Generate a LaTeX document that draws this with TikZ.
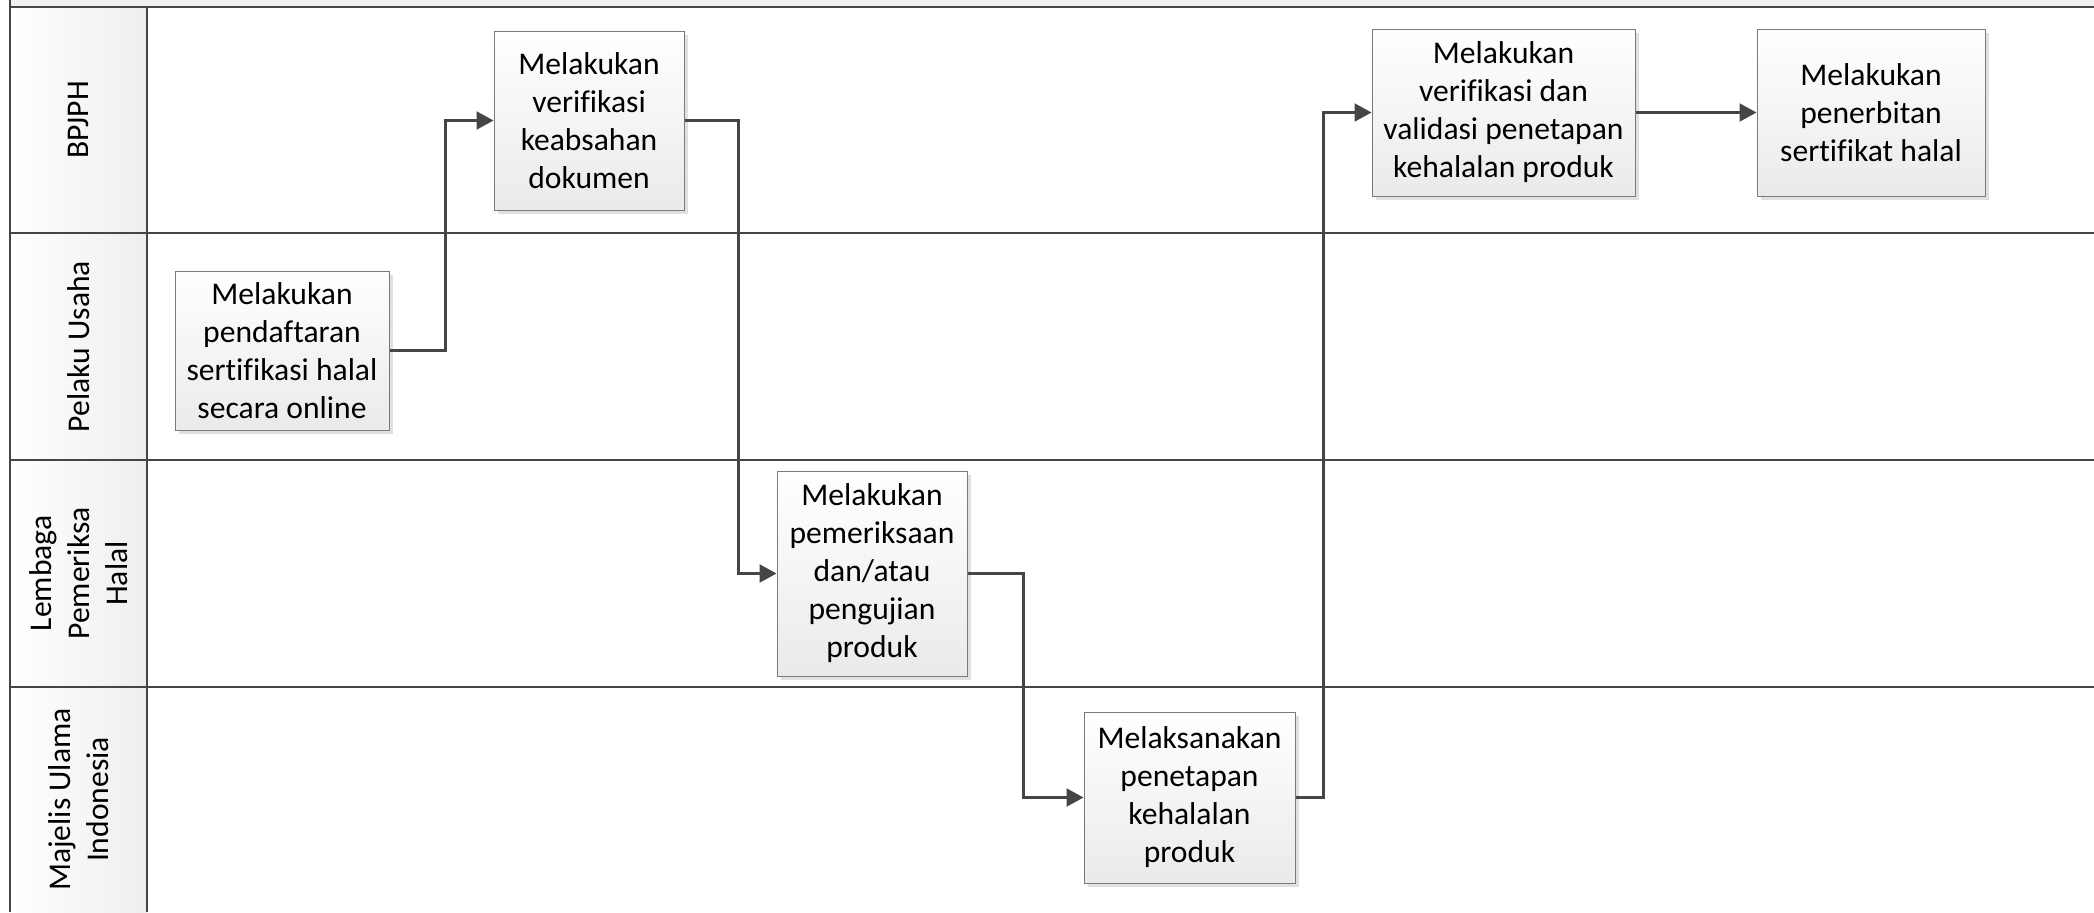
\documentclass[tikz,border=0pt]{standalone}
\usepackage{fontspec}
\setmainfont{Carlito}[Ligatures=NoCommon]
\usetikzlibrary{arrows.meta,shadows}
\definecolor{linec}{HTML}{454545}
\definecolor{boxborder}{HTML}{7A7A7A}
\definecolor{boxbot}{HTML}{EAEAEA}
\definecolor{hdrr}{HTML}{EEEEEE}
\definecolor{topstrip}{HTML}{F0F0F0}
\tikzset{
  proc/.style={draw=boxborder, line width=0.5pt, top color=white, bottom color=boxbot,
    align=center, font=\fontsize{15.8}{19}\selectfont, inner sep=0pt,
    drop shadow={shadow xshift=2pt, shadow yshift=-2pt, fill=black, opacity=0.12}},
  laneline/.style={draw=linec, line width=1pt},
  flow/.style={draw=linec, line width=1.1pt, -{Triangle[length=8.5pt,width=9pt]}},
  lanelabel/.style={rotate=90, align=center, font=\fontsize{15.8}{19}\selectfont}
}
\begin{document}
\begin{tikzpicture}[x=0.5pt,y=-0.5pt]
\useasboundingbox (0,0) rectangle (2094,912);
% top strip
\fill[topstrip] (10,0) rectangle (2094,7);
% header column shading
\shade[left color=white, right color=hdrr] (10,7) rectangle (147,912);
% lane lines
\draw[laneline] (10,7) -- (2094,7);
\draw[laneline] (10,233) -- (2094,233);
\draw[laneline] (10,460) -- (2094,460);
\draw[laneline] (10,687) -- (2094,687);
\draw[laneline] (10,0) -- (10,912);
\draw[laneline] (147,7) -- (147,912);
% lane labels
\node[lanelabel] (l1) at (78.5,120) {BPJPH};
\node[lanelabel] (l2) at (78.5,346.5) {Pelaku Usaha};
\node[lanelabel] (l3) at (78.5,573.5) {Lembaga\\Pemeriksa\\Halal};
\node[lanelabel] (l4) at (78.5,799.5) {Majelis Ulama\\Indonesia};
% process boxes
\node[proc, minimum width=107pt, minimum height=79.5pt] (b1) at (282,350.5)
  {Melakukan\\pendaftaran\\sertifikasi halal\\secara online};
\node[proc, minimum width=95pt, minimum height=89.5pt] (b2) at (589,120.5)
  {Melakukan\\verifikasi\\keabsahan\\dokumen};
\node[proc, minimum width=95pt, minimum height=102.5pt] (b3) at (872,573.5)
  {Melakukan\\pemeriksaan\\dan/atau\\pengujian\\produk};
\node[proc, minimum width=105.5pt, minimum height=85.5pt] (b4) at (1189.5,797.5)
  {Melaksanakan\\penetapan\\kehalalan\\produk};
\node[proc, minimum width=131.5pt, minimum height=83.5pt] (b5) at (1503.5,112.5)
  {Melakukan\\verifikasi dan\\validasi penetapan\\kehalalan produk};
\node[proc, minimum width=114pt, minimum height=83.5pt] (b6) at (1871,112.5)
  {Melakukan\\penerbitan\\sertifikat halal};
% connectors
\draw[flow] (b1.east) -- ++(56,0) |- (b2.west);
\draw[flow] (b2.east) -- ++(54,0) |- (b3.west);
\draw[flow] (b3.east) -- ++(56,0) |- (b4.west);
\draw[flow] (b4.east) -- ++(28,0) |- (b5.west);
\draw[flow] (b5.east) -- (b6.west);
\end{tikzpicture}
\end{document}
